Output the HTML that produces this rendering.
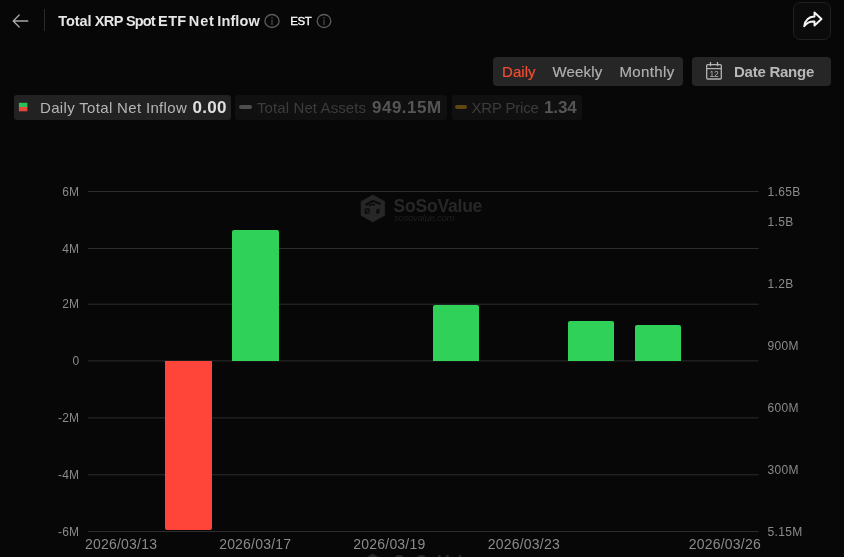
<!DOCTYPE html>
<html><head><meta charset="utf-8">
<style>
html,body{margin:0;padding:0;background:#070707;}
body{width:844px;height:557px;position:relative;overflow:hidden;font-family:"Liberation Sans",sans-serif;color:#ddd;}
.abs{position:absolute;white-space:nowrap;}
.title{top:12px;font-size:14.5px;font-weight:bold;color:#e6e6e6;line-height:18px;letter-spacing:-0.21px;}
.est{left:290.2px;top:12.8px;font-size:11.5px;color:#fff;line-height:16px;letter-spacing:-0.42px;-webkit-text-stroke:0.3px #fff;}
.seg{left:493px;top:57px;width:190px;height:29px;background:#262626;border-radius:4px;}
.segt{top:62px;font-size:15px;line-height:19px;color:#b0b0b0;letter-spacing:-0.3px;-webkit-text-stroke:0.2px currentColor;}
.dr{left:692px;top:57px;width:139px;height:29px;background:#262626;border-radius:4px;}
.drt{left:734px;top:62px;font-size:15px;font-weight:bold;line-height:19px;color:#b8b8b8;letter-spacing:-0.25px;}
.share{left:793px;top:2px;width:36px;height:36px;border:1px solid #202020;border-radius:7px;background:#0b0b0b;}
.lg{top:95px;height:25px;border-radius:3px;}
.lgt{top:98px;font-size:15px;line-height:19px;letter-spacing:-0.3px;}
.yl{font-size:12px;line-height:14px;color:#8a8a8a;text-align:right;width:60px;left:19.3px;letter-spacing:0.2px;}
.yr{font-size:12px;line-height:14px;color:#8a8a8a;left:767.4px;letter-spacing:0.4px;}
.xl{font-size:14px;line-height:14px;color:#8a8a8a;top:537px;width:100px;text-align:center;letter-spacing:0.2px;}
.grid{left:89px;width:669px;height:1px;background:#2b2b2b;}
.bar{width:46.4px;}
.g{background:#30d158;border-radius:2px 2px 0 0;}
.r{background:#ff453a;border-radius:0 0 2px 2px;}
</style></head><body>

<!-- header -->
<svg class="abs" style="left:10px;top:10.5px" width="22" height="20" viewBox="0 0 22 20"><path d="M17.8 10H3.4M9.2 4L3.2 10l6 6" fill="none" stroke="#a8a8a8" stroke-width="1.3" stroke-linecap="round" stroke-linejoin="round"/></svg>
<div class="abs" style="left:44px;top:9px;width:1px;height:22px;background:#2a2a2a"></div>
<div class="abs title" style="left:0;width:270px;height:18px"><span style="position:absolute;left:58.18px;top:0;letter-spacing:-0.02px">Total</span> <span style="position:absolute;left:94.68px;top:0;letter-spacing:-0.52px">XRP</span> <span style="position:absolute;left:126.1px;top:0;letter-spacing:-0.93px">Spot</span> <span style="position:absolute;left:158.1px;top:0;letter-spacing:0.36px">ETF</span> <span style="position:absolute;left:188.8px;top:0;letter-spacing:0.88px">Net</span> <span style="position:absolute;left:217.3px;top:0;letter-spacing:0.12px">Inflow</span></div>
<svg class="abs" style="left:264.3px;top:12.8px" width="16" height="16" viewBox="0 0 16 16"><ellipse cx="8" cy="8" rx="7.100" ry="6.500" fill="none" stroke="#5c5c5c" stroke-width="1.300"/><rect x="7.400" y="6.600" width="1.200" height="5.300" fill="#4c4c4c"/><rect x="7.400" y="4" width="1.200" height="1.400" fill="#4c4c4c"/></svg>
<div class="abs est">EST</div>
<svg class="abs" style="left:316.2px;top:12.8px" width="16" height="16" viewBox="0 0 16 16"><ellipse cx="8" cy="8" rx="6.800" ry="6.500" fill="none" stroke="#5c5c5c" stroke-width="1.300"/><rect x="7.400" y="6.600" width="1.200" height="5.300" fill="#4c4c4c"/><rect x="7.400" y="4" width="1.200" height="1.400" fill="#4c4c4c"/></svg>

<div class="abs share"></div>
<svg class="abs" style="left:802px;top:10px" width="22" height="20" viewBox="0 0 22 20"><path d="M12.5 2.5L19.5 9l-7 6.5v-4c-4.5-0.2-7.8 1.2-10.300 4.800C3 10.500 6.500 6.800 12.500 6.500z" fill="none" stroke="#f4f4f4" stroke-width="1.9" stroke-linejoin="round"/></svg>

<!-- controls -->
<div class="abs seg"></div>
<div class="abs segt" style="left:502px;color:#f24c30;letter-spacing:0.05px">Daily</div>
<div class="abs segt" style="left:552.5px;letter-spacing:0.18px">Weekly</div>
<div class="abs segt" style="left:619.5px;letter-spacing:0.36px">Monthly</div>
<div class="abs dr"></div>
<svg class="abs" style="left:705px;top:61px" width="18" height="20" viewBox="0 0 18 20"><rect x="1.700" y="3.600" width="14.600" height="14.400" rx="1" fill="none" stroke="#b4b4b4" stroke-width="1.300"/><path d="M1.700 7.600h14.600M5.500 1v4.200M12.500 1v4.200" stroke="#b4b4b4" stroke-width="1.300" fill="none"/><text x="9" y="15.800" font-size="8.500" font-family="Liberation Sans, sans-serif" fill="#b4b4b4" text-anchor="middle" letter-spacing="-0.3">12</text></svg>
<div class="abs drt">Date Range</div>

<!-- legend -->
<div class="abs lg" style="left:14px;width:217px;background:#222222;top:94.5px;height:25.5px"></div>
<svg class="abs" style="left:18px;top:101px" width="12" height="12" viewBox="0 0 12 12"><rect x="0.900" y="1.800" width="8.500" height="4.300" fill="#2fbf5a"/><rect x="0.900" y="6" width="8.500" height="4.300" fill="#e5473e"/></svg>

<div class="abs lgt" style="left:40px;color:#b5b5b5;letter-spacing:0.33px">Daily Total Net Inflow</div>
<div class="abs lgt" style="left:192.5px;color:#e0e0e0;font-weight:bold;font-size:17px;letter-spacing:0.3px">0.00</div>

<div class="abs lg" style="left:235px;width:211.5px;background:#101010"></div>
<div class="abs" style="left:239px;top:105px;width:13px;height:4px;border-radius:2px;background:#4e4e4e"></div>
<div class="abs lgt" style="left:257px;color:#3c3c3c;letter-spacing:0.1px">Total Net Assets</div>
<div class="abs lgt" style="left:372px;color:#555;font-weight:bold;font-size:17px;letter-spacing:0.5px">949.15M</div>

<div class="abs lg" style="left:451.5px;width:130.5px;background:#101010"></div>
<div class="abs" style="left:455px;top:105px;width:12px;height:4px;border-radius:2px;background:#5e4712"></div>
<div class="abs lgt" style="left:471.500px;color:#3c3c3c;letter-spacing:-0.2px">XRP Price</div>
<div class="abs lgt" style="left:544px;color:#555;font-weight:bold;font-size:17px;letter-spacing:-0.1px">1.34</div>

<!-- chart grid -->
<svg class="abs" style="left:0;top:0" width="844" height="557" viewBox="0 0 844 557"><line x1="88" x2="758.500" y1="191.5" y2="191.5" stroke="#2d2d2d" stroke-width="1"/><line x1="88" x2="758.500" y1="248.5" y2="248.5" stroke="#2d2d2d" stroke-width="1"/><line x1="88" x2="758.500" y1="304.2" y2="304.2" stroke="#2d2d2d" stroke-width="1"/><line x1="88" x2="758.500" y1="360.9" y2="360.9" stroke="#2d2d2d" stroke-width="1"/><line x1="88" x2="758.500" y1="417.9" y2="417.9" stroke="#2d2d2d" stroke-width="1"/><line x1="88" x2="758.500" y1="474.8" y2="474.8" stroke="#2d2d2d" stroke-width="1"/><line x1="88" x2="758.500" y1="531.5" y2="531.5" stroke="#2d2d2d" stroke-width="1"/></svg>
<div class="abs yl" style="top:184.6px">6M</div>
<div class="abs yl" style="top:241.6px">4M</div>
<div class="abs yl" style="top:297.3px">2M</div>
<div class="abs yl" style="top:354.0px">0</div>
<div class="abs yl" style="top:411.0px">-2M</div>
<div class="abs yl" style="top:467.9px">-4M</div>
<div class="abs yl" style="top:524.6px">-6M</div>
<div class="abs yr" style="top:184.6px">1.65B</div>
<div class="abs yr" style="top:215.3px">1.5B</div>
<div class="abs yr" style="top:277.3px">1.2B</div>
<div class="abs yr" style="top:339.2px">900M</div>
<div class="abs yr" style="top:401.2px">600M</div>
<div class="abs yr" style="top:463.2px">300M</div>
<div class="abs yr" style="top:524.6px">5.15M</div>

<!-- watermark -->
<svg class="abs" style="left:360px;top:194px" width="26" height="29" viewBox="0 0 26 29"><path d="M12.800 0.900L24.700 7.500v13.900L12.800 27.900 1 21.400V7.500z" fill="#272727" stroke="#272727" stroke-width="0.600" stroke-linejoin="round"/><path d="M5.600 11L12.800 7l8 3" fill="none" stroke="#0b0b0b" stroke-width="2.200"/><path d="M9 11.800l3.500-1.500 2.500 1" fill="none" stroke="#0b0b0b" stroke-width="1.600"/><rect x="4.600" y="14.300" width="5" height="5.600" fill="#0d0d0d"/><path d="M5.800 15.200l2.800 3.800" stroke="#272727" stroke-width="1.100"/><ellipse cx="17.900" cy="17.300" rx="1.800" ry="2.700" fill="#0d0d0d" transform="rotate(15 17.900 17.300)"/></svg>
<div class="abs" style="left:393.500px;top:195.500px;font-size:17.500px;line-height:20px;font-weight:bold;color:#272727;letter-spacing:-0.200px">SoSoValue</div>
<div class="abs" style="left:394px;top:212.500px;font-size:9.500px;line-height:10px;color:#1f1f1f;font-style:italic;letter-spacing:-0.250px">sosovalue.com</div>

<!-- bars -->
<div class="abs bar r" style="left:165.3px;top:361px;height:168.8px"></div>
<div class="abs bar g" style="left:232.2px;top:230px;height:130.700px"></div>
<div class="abs bar g" style="left:433.1px;top:304.600px;height:56.100px"></div>
<div class="abs bar g" style="left:567.5px;top:321.100px;height:39.600px"></div>
<div class="abs bar g" style="left:634.5px;top:325.300px;height:35.400px"></div>

<!-- x labels -->
<div class="abs xl" style="left:71.1px">2026/03/13</div>
<div class="abs xl" style="left:205.2px">2026/03/17</div>
<div class="abs xl" style="left:339.4px">2026/03/19</div>
<div class="abs xl" style="left:473.85px">2026/03/23</div>
<div class="abs xl" style="left:674.85px">2026/03/26</div>

<!-- bottom watermark (cut off) -->
<svg class="abs" style="left:360px;top:552.600px" width="26" height="29" viewBox="0 0 26 29"><path d="M12.800 0.900L24.700 7.500v13.900L12.800 27.900 1 21.400V7.500z" fill="#272727" stroke="#272727" stroke-width="0.600" stroke-linejoin="round"/></svg>
<div class="abs" style="left:393.500px;top:552.300px;font-size:17.500px;line-height:20px;font-weight:bold;color:#272727;letter-spacing:-0.200px">SoSoValue</div>

</body></html>
